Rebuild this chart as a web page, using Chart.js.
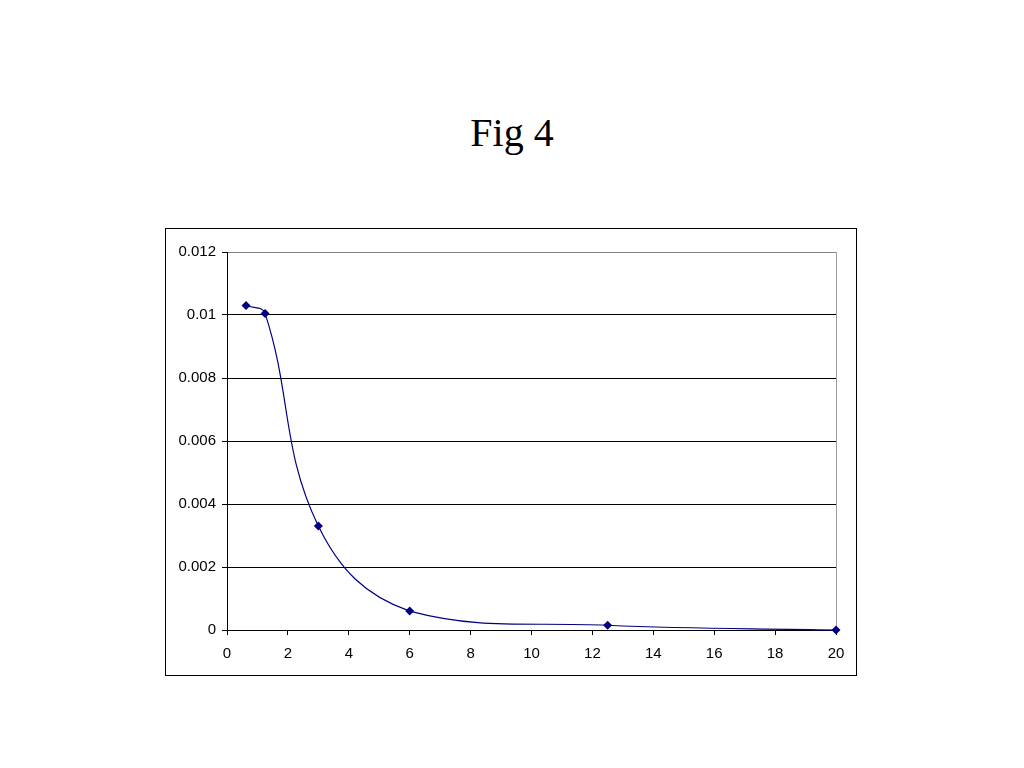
<!DOCTYPE html>
<html>
<head>
<meta charset="utf-8">
<script src="https://cdn.jsdelivr.net/npm/chart.js@4.4.1/dist/chart.umd.min.js"></script>
<style>
    body { margin: 0; background: #fff; width: 1024px; height: 768px; position: relative; overflow: hidden; }
    #title { position: absolute; left: 0; width: 1024px; top: 110px; text-align: center; font-family: "Liberation Serif", "Times New Roman", serif; font-size: 40px; line-height: 46px; color: #000; }
    #box { position: absolute; left: 165px; top: 228px; width: 690px; height: 446px; border: 1px solid #000; }
</style>
</head>
<body>
<div id="title">Fig 4</div>
<div id="box"><canvas id="fig-chart" width="690" height="446"></canvas></div>
<script>
const xValues = [0.625, 1.25, 3, 6, 12.5, 20];
const yValues = [0.0103, 0.01005, 0.0033, 0.0006, 0.00015, 0];
const xTickValues = [0, 2, 4, 6, 8, 10, 12, 14, 16, 18, 20];
const xTickLabels = ['0', '2', '4', '6', '8', '10', '12', '14', '16', '18', '20'];
const yTickValues = [0, 0.002, 0.004, 0.006, 0.008, 0.01, 0.012];
const yTickLabels = ['0', '0.002', '0.004', '0.006', '0.008', '0.01', '0.012'];

function renderFigChart() {
    const ctx = document.getElementById('fig-chart');
    if (!ctx) return;

    new Chart(ctx, {
        type: 'line',
        data: {
            datasets: [{
                data: xValues.map((x, i) => ({ x: x, y: yValues[i] })),
                borderColor: '#000080',
                backgroundColor: '#000080',
                borderWidth: 1.2,
                pointStyle: 'rectRot',
                pointRadius: 4.5,
                pointBorderWidth: 0,
                fill: false,
                clip: false,
                tension: 0.4
            }]
        },
        options: {
            responsive: false,
            animation: false,
            layout: { padding: { left: 0, right: 20, top: 23, bottom: 0 } },
            scales: {
                x: {
                    type: 'linear',
                    min: 0,
                    max: 20,
                    afterBuildTicks: scale => { scale.ticks = xTickValues.map(v => ({ value: v })); },
                    afterFit: scale => { scale.height = 45; },
                    ticks: {
                        autoSkip: false,
                        maxRotation: 0,
                        padding: 10,
                        color: '#000',
                        font: { family: '"Liberation Sans", Arial, sans-serif', size: 15 },
                        callback: (value, index) => xTickLabels[index]
                    },
                    grid: {
                        drawOnChartArea: true,
                        color: c => (c.tick && c.tick.value === 20) ? '#a0a0a0' : 'rgba(0,0,0,0)',
                        tickColor: '#000',
                        tickLength: 5,
                        lineWidth: 1
                    },
                    border: { color: '#000', width: 1 }
                },
                y: {
                    min: 0,
                    max: 0.012,
                    afterBuildTicks: scale => { scale.ticks = yTickValues.map(v => ({ value: v })); },
                    afterFit: scale => { scale.width = 61; },
                    ticks: {
                        autoSkip: false,
                        padding: 6,
                        color: '#000',
                        font: { family: '"Liberation Sans", Arial, sans-serif', size: 15 },
                        callback: (value, index) => yTickLabels[index]
                    },
                    grid: {
                        color: c => (c.tick && c.tick.value === 0.012) ? '#808080' : '#000',
                        tickColor: '#000',
                        tickLength: 5,
                        lineWidth: 1
                    },
                    border: { color: '#000', width: 1 }
                }
            },
            plugins: {
                legend: { display: false },
                tooltip: { enabled: false }
            }
        }
    });
}

renderFigChart();
</script>
</body>
</html>
